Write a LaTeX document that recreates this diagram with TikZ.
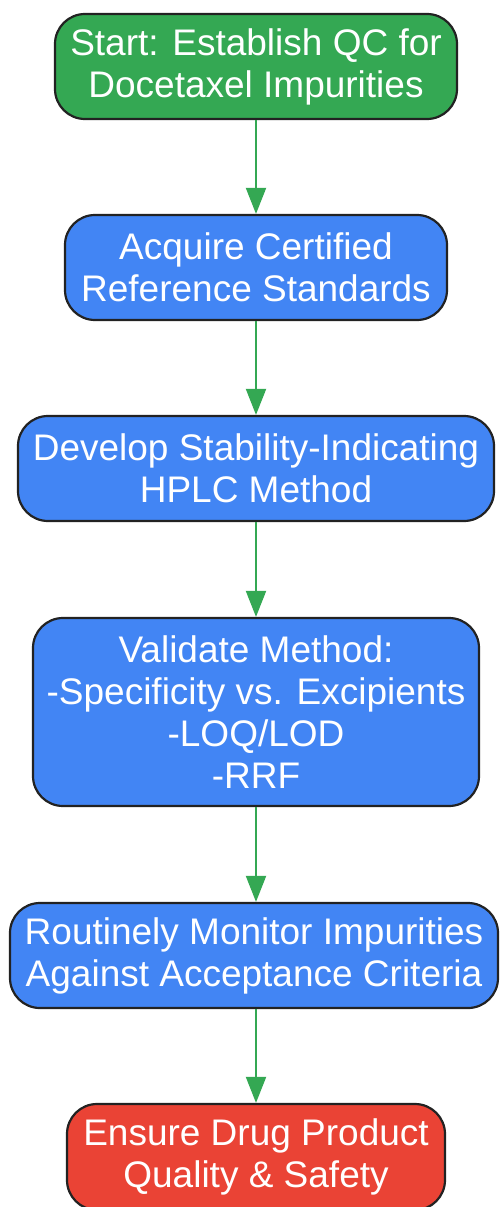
\documentclass[tikz,border=0pt]{standalone}
\usepackage{fontspec}
\setmainfont{Liberation Sans}
\usetikzlibrary{arrows.meta}
\definecolor{gGreen}{HTML}{34A853}
\definecolor{gBlue}{HTML}{4285F4}
\definecolor{gRed}{HTML}{EA4335}
\definecolor{edgeC}{HTML}{222222}
\tikzset{
  flowbox/.style={draw=edgeC, line width=2.2pt, rounded corners=30pt, text=white,
    align=center, inner sep=0pt, font=\fontsize{37}{42}\selectfont},
  flowarrow/.style={draw=gGreen, line width=2pt, -{Triangle[length=26pt,width=20pt]}}
}
\begin{document}
\begin{tikzpicture}[x=1pt,y=-1pt]
\useasboundingbox (0,0) rectangle (499,1207);
\node[flowbox, fill=gGreen, minimum width=402pt, minimum height=105pt] (b1) at (256,66.5) {Start: Establish QC for\\Docetaxel Impurities};
\node[flowbox, fill=gBlue, minimum width=382pt, minimum height=105pt] (b2) at (256,267.5) {Acquire Certified\\Reference Standards};
\node[flowbox, fill=gBlue, minimum width=476pt, minimum height=105pt] (b3) at (256,468.5) {Develop Stability-Indicating\\HPLC Method};
\node[flowbox, fill=gBlue, minimum width=446pt, minimum height=188pt] (b4) at (256,712) {Validate Method:\\-Specificity vs. Excipients\\-LOQ/LOD\\-RRF};
\node[flowbox, fill=gBlue, minimum width=488pt, minimum height=105pt] (b5) at (254,955.5) {Routinely Monitor Impurities\\Against Acceptance Criteria};
\node[flowbox, fill=gRed, minimum width=378pt, minimum height=106pt] (b6) at (256,1157) {Ensure Drug Product\\Quality \& Safety};
\draw[flowarrow] (b1.south -| 256,0) -- (b2.north -| 256,0);
\draw[flowarrow] (b2.south -| 256,0) -- (b3.north -| 256,0);
\draw[flowarrow] (b3.south -| 256,0) -- (b4.north -| 256,0);
\draw[flowarrow] (b4.south -| 256,0) -- (b5.north -| 256,0);
\draw[flowarrow] (b5.south -| 256,0) -- (b6.north -| 256,0);
\end{tikzpicture}
\end{document}
